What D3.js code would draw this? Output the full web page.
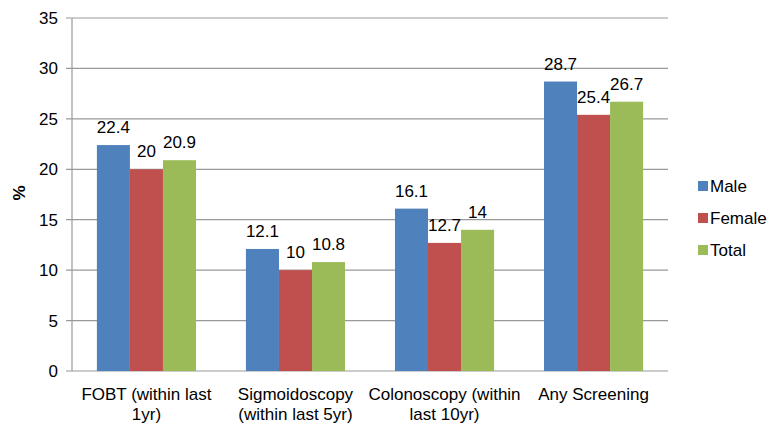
<!DOCTYPE html>
<html>
<head>
<meta charset="utf-8">
<script src="https://cdn.jsdelivr.net/npm/d3@7"></script>
<style>
  body { margin: 0; background: #fff; }
  svg text { font-family: 'Liberation Sans', Arial, sans-serif; fill: #000; }
</style>
</head>
<body>
<div id="chart"></div>
<script>
const categories = [
  ['FOBT (within last', '1yr)'],
  ['Sigmoidoscopy', '(within last 5yr)'],
  ['Colonoscopy (within', 'last 10yr)'],
  ['Any Screening']
];
const seriesNames = ['Male', 'Female', 'Total'];
const male = [22.4, 12.1, 16.1, 28.7];
const female = [20, 10, 12.7, 25.4];
const total = [20.9, 10.8, 14, 26.7];
const yTicks = [0, 5, 10, 15, 20, 25, 30, 35];

const colors = ['#4F81BD', '#C0504D', '#9BBB59'];
const width = 771, height = 424;
const margin = { left: 72, right: 103, top: 18, bottom: 53 };
const fs = 17;

const svg = d3.select('#chart').append('svg')
  .attr('width', width).attr('height', height);

const x0 = d3.scaleBand().domain(d3.range(categories.length))
  .range([margin.left, width - margin.right]).paddingInner(0.335).paddingOuter(0.167);
const x1 = d3.scaleBand().domain(seriesNames).range([0, x0.bandwidth()]);
const y = d3.scaleLinear().domain([0, 35]).range([height - margin.bottom, margin.top]);

// gridlines
svg.selectAll('line.grid').data(yTicks).join('line')
  .attr('class', 'grid')
  .attr('x1', margin.left - 6).attr('x2', width - margin.right)
  .attr('y1', d => y(d)).attr('y2', d => y(d))
  .attr('stroke', '#999').attr('stroke-width', 1.2);

svg.append('line')
  .attr('x1', margin.left).attr('x2', margin.left)
  .attr('y1', y(35)).attr('y2', y(0))
  .attr('stroke', '#999').attr('stroke-width', 1.2);

svg.selectAll('text.ytick').data(yTicks).join('text')
  .attr('class', 'ytick')
  .attr('x', margin.left - 14).attr('y', d => y(d) + 6)
  .attr('text-anchor', 'end').attr('font-size', fs).text(d => d);

const flat = [];
categories.forEach((c, i) => {
  [male[i], female[i], total[i]].forEach((v, k) => {
    flat.push({ i, k, v, name: seriesNames[k] });
  });
});

svg.selectAll('rect.bar').data(flat).join('rect')
  .attr('class', 'bar')
  .attr('x', d => x0(d.i) + x1(d.name)).attr('width', x1.bandwidth())
  .attr('y', d => y(d.v)).attr('height', d => y(0) - y(d.v))
  .attr('fill', d => colors[d.k]);

svg.selectAll('text.lbl').data(flat).join('text')
  .attr('class', 'lbl')
  .attr('x', d => x0(d.i) + x1(d.name) + x1.bandwidth() / 2)
  .attr('y', d => y(d.v) - 12)
  .attr('text-anchor', 'middle').attr('font-size', fs).text(d => d.v);

// category labels, one text per line
const catLines = [];
categories.forEach((lines, i) => lines.forEach((t, j) => catLines.push({ i, j, t })));
svg.selectAll('text.cat').data(catLines).join('text')
  .attr('class', 'cat')
  .attr('x', d => x0(d.i) + x0.bandwidth() / 2)
  .attr('y', d => y(0) + 29 + d.j * 20)
  .attr('text-anchor', 'middle').attr('font-size', fs).text(d => d.t);

// y label
svg.append('text').attr('transform', 'translate(25,193) rotate(-90)')
  .attr('text-anchor', 'middle').attr('font-size', fs).attr('font-weight', 'bold').text('%');

// legend
seriesNames.forEach((s, k) => {
  svg.append('rect').attr('x', 698).attr('y', 181 + k * 32)
    .attr('width', 10).attr('height', 10).attr('fill', colors[k]);
  svg.append('text').attr('x', 710).attr('y', 192 + k * 32)
    .attr('font-size', fs).text(s);
});
</script>
</body>
</html>
